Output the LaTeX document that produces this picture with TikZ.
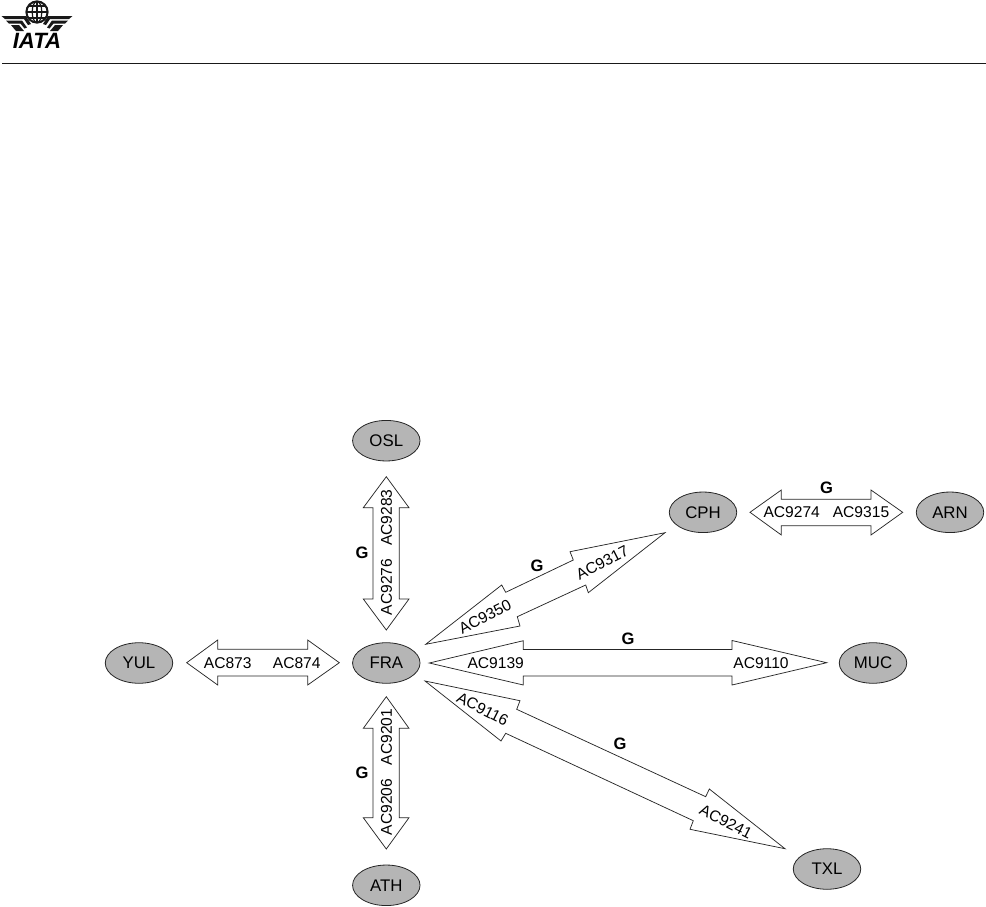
\documentclass[tikz,border=0pt]{standalone}
\usepackage{fontspec}
\setmainfont{Liberation Sans}
\usetikzlibrary{shapes.geometric}
\tikzset{
  airport/.style={ellipse,draw=black!85,line width=.6pt,fill=black!29,minimum width=50.6pt,minimum height=30.4pt,inner sep=0pt,text=black,font=\fontsize{12.6}{14}\selectfont},
  bigarrow/.style={draw=black!85,line width=.55pt,fill=white,line join=miter},
  flight/.style={inner sep=0pt,text=black,font=\fontsize{11.7}{14}\selectfont},
  grade/.style={inner sep=0pt,text=black,font=\fontsize{12.4}{14}\selectfont\bfseries},
  wing/.style={fill=black!90,draw=none}
}
\begin{document}
\begin{tikzpicture}[x=.75pt,y=-.75pt]
\useasboundingbox (0,0) rectangle (986,907);
% header logo
\draw[black!90,line width=1.5pt] (37,12) circle (10.6);
\draw[black!90,line width=.9pt] (37,12) ellipse (4.8 and 10.6);
\draw[black!90,line width=.9pt] (37,1.4) -- (37,22.6) (26.4,12) -- (47.6,12) (28,6) -- (46,6) (28,18) -- (46,18);
\fill[wing] (1.5,16) -- (26,16) -- (31,24) -- (28,25) -- (24,19) -- (5,19) -- cycle;
\fill[wing] (6,20.5) -- (22,20.5) -- (27,27.5) -- (24.5,28.5) -- (20.5,23.5) -- (9,23.5) -- cycle;
\fill[wing] (11,25) -- (19,25) -- (24,31) -- (16,31) -- cycle;
\fill[wing] (72.5,16) -- (48,16) -- (43,24) -- (46,25) -- (50,19) -- (69,19) -- cycle;
\fill[wing] (68,20.5) -- (52,20.5) -- (47,27.5) -- (49.5,28.5) -- (53.5,23.5) -- (65,23.5) -- cycle;
\fill[wing] (63,25) -- (55,25) -- (50,31) -- (58,31) -- cycle;
\node[inner sep=0pt,text=black,font=\fontsize{16.6}{18}\selectfont\bfseries\itshape] (iata) at (37,41) {IATA};
\coordinate (ruleL) at (2,63.5);
\coordinate (ruleR) at (986,63.5);
\draw[black!90,line width=.7pt] (ruleL) -- (ruleR);
% airports
\node[airport] (OSL) at (386.3,440.7) {OSL};
\node[airport] (FRA) at (386.3,663) {FRA};
\node[airport] (ATH) at (386.3,885.3) {ATH};
\node[airport] (YUL) at (139,663) {YUL};
\node[airport] (CPH) at (703,512.3) {CPH};
\node[airport] (ARN) at (950,512.3) {ARN};
\node[airport] (MUC) at (873,663) {MUC};
\node[airport] (TXL) at (827,869) {TXL};
% arrows
\draw[bigarrow] (386.3,476.7) -- (409,507.7) -- (399.3,507.7) -- (399.3,599) -- (409,599) -- (386.3,630) -- (363.3,599) -- (373,599) -- (373,507.7) -- (363.3,507.7) -- cycle;
\draw[bigarrow] (386.3,696.7) -- (409,728.3) -- (399.3,728.3) -- (399.3,817.7) -- (409,817.7) -- (386.3,849) -- (363.3,817.7) -- (373,817.7) -- (373,728.3) -- (363.3,728.3) -- cycle;
\draw[bigarrow] (186.7,662.7) -- (217.7,640) -- (217.7,649.3) -- (307.7,649.3) -- (307.7,640) -- (339.3,662.7) -- (307.7,685) -- (307.7,676) -- (217.7,676) -- (217.7,685) -- cycle;
\draw[bigarrow] (750,512.3) -- (781.3,490) -- (781.3,499.3) -- (871,499.3) -- (871,490) -- (902.7,512.3) -- (871,535) -- (871,525.7) -- (781.3,525.7) -- (781.3,535) -- cycle;
\draw[bigarrow] (429.3,663) -- (523.3,640.7) -- (523.3,649.5) -- (732,649.5) -- (732,640.5) -- (826.7,662.7) -- (732,685) -- (732,676) -- (523.3,676) -- (523.3,685) -- cycle;
\draw[bigarrow] (425.7,644.3) -- (501.7,585) -- (505.7,592.3) -- (573.3,560) -- (570,551.7) -- (665,532.7) -- (588.3,592.7) -- (585.7,585) -- (517.3,616.7) -- (520,626) -- cycle;
\draw[bigarrow] (425,681) -- (520,700.7) -- (516.7,709.3) -- (705.7,796.7) -- (709.3,789) -- (785,848.7) -- (690,829.3) -- (693.3,820.7) -- (505.7,733.3) -- (501,741) -- cycle;
% flight labels
\node[flight,rotate=90] (f1) at (386.5,517.5) {AC9283};
\node[flight,rotate=90] (f2) at (386.5,587) {AC9276};
\node[flight,rotate=90] (f3) at (386.5,737) {AC9201};
\node[flight,rotate=90] (f4) at (386.5,807) {AC9206};
\node[flight] (f5) at (227.7,663) {AC873};
\node[flight] (f6) at (296.7,663) {AC874};
\node[flight] (f7) at (791.7,512.3) {AC9274};
\node[flight] (f8) at (861,512.3) {AC9315};
\node[flight] (f9) at (495.7,663) {AC9139};
\node[flight] (f10) at (761,663) {AC9110};
\node[flight,rotate=27] (f11) at (485,617) {AC9350};
\node[flight,rotate=27] (f12) at (602.3,562.7) {AC9317};
\node[flight,rotate=-27] (f13) at (482.7,709) {AC9116};
\node[flight,rotate=-27] (f14) at (726,822) {AC9241};
% grade labels
\node[grade] (g1) at (362,553) {G};
\node[grade] (g2) at (362,773) {G};
\node[grade] (g3) at (537,566) {G};
\node[grade] (g4) at (628,639) {G};
\node[grade] (g5) at (620,744) {G};
\node[grade] (g6) at (826.5,488) {G};
\end{tikzpicture}
\end{document}
